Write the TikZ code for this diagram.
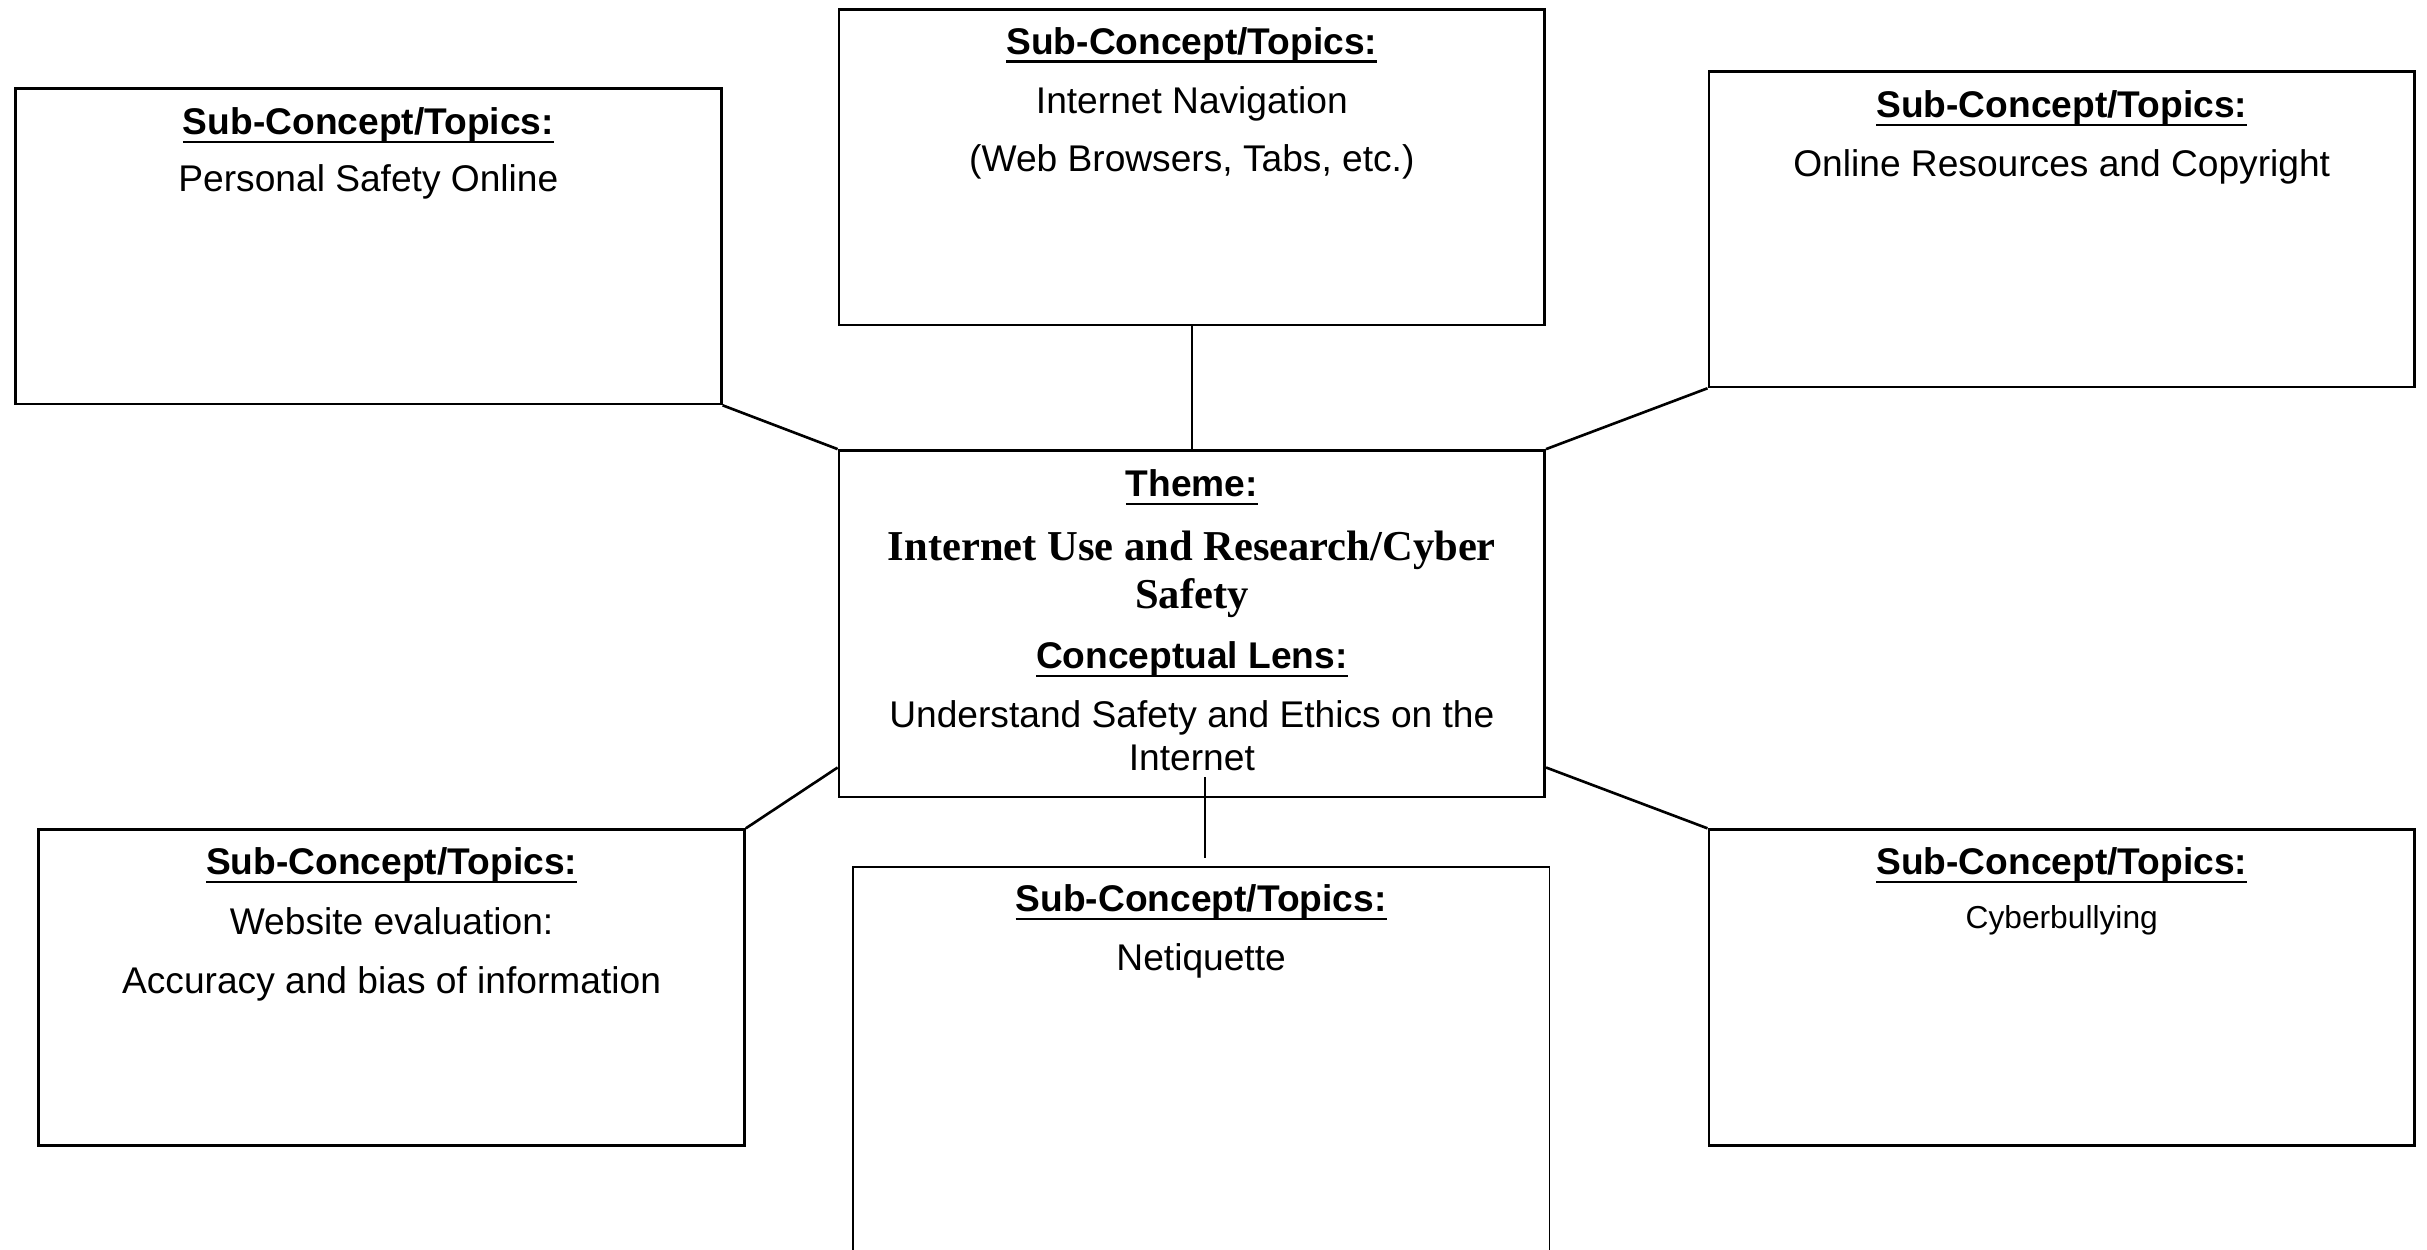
\documentclass[tikz,border=0pt]{standalone}
\usepackage{fontspec}
\setmainfont{Liberation Sans}
\newfontfamily\tnrfont{Liberation Serif}
\usetikzlibrary{calc}
\newcommand\ulx[1]{\leavevmode\setbox0\hbox{#1}\rlap{\rule[-5.5pt]{\wd0}{1.6pt}}\box0}
\tikzset{
  box/.style={draw, line width=1.7pt, minimum width=456pt, minimum height=204pt, inner sep=0pt},
  txt/.style={anchor=base, inner sep=0pt, font=\fontsize{24}{28}\selectfont},
  smalltxt/.style={anchor=base, inner sep=0pt, font=\fontsize{20.5}{24}\selectfont},
  hd/.style={anchor=base, inner sep=0pt, font=\fontsize{24}{28}\selectfont\bfseries},
  themetxt/.style={anchor=base, inner sep=0pt, font=\tnrfont\fontsize{27.5}{31}\selectfont\bfseries},
  conn/.style={line width=1.7pt},
  thinconn/.style={line width=0.8pt},
}
\begin{document}
\begin{tikzpicture}[x=1pt,y=-1pt]
\clip (0,0) rectangle (1568,807);
\fill[white] (0,0) rectangle (1568,807);

% boxes
\node[box] (tl) at (238,159) {};
\node[box] (tc) at (770,108) {};
\node[box] (tr) at (1332,148) {};
\node[box, minimum height=224pt] (ctr) at (770,403) {};
\node[box] (bl) at (253,638) {};
\node[box, line width=1.1pt, minimum width=450pt, minimum height=290pt] (bc) at (776,705) {};
\node[box] (br) at (1332,638) {};

% connectors
\draw[conn] (tl.south east) -- (ctr.north west);
\draw[conn] (tc.south) -- (ctr.north);
\draw[conn] (tr.south west) -- (ctr.north east);
\draw[conn] ($(ctr.south west)+(0,-20)$) -- (bl.north east);
\draw[conn] ($(ctr.south east)+(0,-20)$) -- (br.north west);
\coordinate (lnA) at (778.5,502);
\coordinate (lnB) at (778.5,554);
\draw[thinconn] (lnA) -- (lnB);

% top-left
\node[hd] (tlh) at (238,87) {\ulx{Sub-Concept/Topics:}};
\node[txt] (tl1) at (238,124) {Personal Safety Online};

% top-center
\node[hd] (tch) at (770,35) {\ulx{Sub-Concept/Topics:}};
\node[txt] (tc1) at (770,73) {Internet Navigation};
\node[txt] (tc2) at (770,111) {(Web Browsers, Tabs, etc.)};

% top-right
\node[hd] (trh) at (1332,76) {\ulx{Sub-Concept/Topics:}};
\node[txt] (tr1) at (1332,114) {Online Resources and Copyright};

% center
\node[hd] (ch1) at (770,321) {\ulx{Theme:}};
\node[themetxt] (ct1) at (770,362) {Internet Use and Research/Cyber};
\node[themetxt] (ct2) at (770,393) {Safety};
\node[hd] (ch2) at (770,432) {\ulx{Conceptual Lens:}};
\node[txt] (cl1) at (770,470) {Understand Safety and Ethics on the};
\node[txt] (cl2) at (770,498) {Internet};

% bottom-left
\node[hd] (blh) at (253,565) {\ulx{Sub-Concept/Topics:}};
\node[txt] (bl1) at (253,604) {Website evaluation:};
\node[txt] (bl2) at (253,642) {Accuracy and bias of information};

% bottom-center
\node[hd] (bch) at (776,589) {\ulx{Sub-Concept/Topics:}};
\node[txt] (bc1) at (776,627) {Netiquette};

% bottom-right
\node[hd] (brh) at (1332,565) {\ulx{Sub-Concept/Topics:}};
\node[smalltxt] (br1) at (1332,600) {Cyberbullying};
\end{tikzpicture}
\end{document}
